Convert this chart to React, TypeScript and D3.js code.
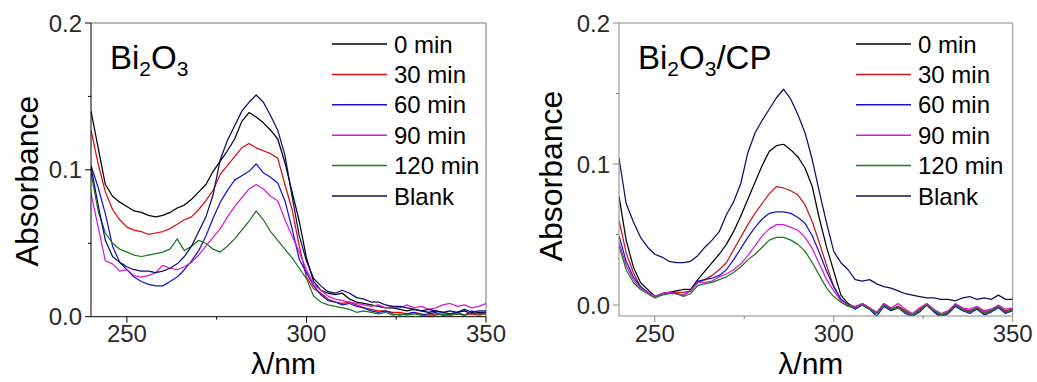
import React from "react";
import * as d3 from "d3";

// wavelength grid (nm), every 2 nm
const wavelengths = [
  240, 242, 244, 246, 248, 250, 252, 254, 256, 258,
  260, 262, 264, 266, 268, 270, 272, 274, 276, 278,
  280, 282, 284, 286, 288, 290, 292, 294, 296, 298,
  300, 302, 304, 306, 308, 310, 312, 314, 316, 318,
  320, 322, 324, 326, 328, 330, 332, 334, 336, 338,
  340, 342, 344, 346, 348, 350,
];

const seriesNames = ["0 min", "30 min", "60 min", "90 min", "120 min", "Blank"];
const leftColors = ["#000000", "#e00c0c", "#1414d2", "#d41cd4", "#1c7a1c", "#0e0e6a"];
const rightColors = ["#000000", "#c41a1a", "#1616c8", "#d41cd4", "#1c7a1c", "#0e0e6a"];

// Bi2O3
const leftMin0 = [
  0.140, 0.115, 0.090, 0.082, 0.078, 0.075, 0.072, 0.071, 0.069, 0.068,
  0.069, 0.071, 0.074, 0.076, 0.080, 0.085, 0.090, 0.099, 0.106, 0.113,
  0.121, 0.133, 0.139, 0.136, 0.132, 0.127, 0.121, 0.105, 0.085, 0.065,
  0.040, 0.024, 0.018, 0.016, 0.015, 0.016, 0.012, 0.010, 0.009, 0.008,
  0.007, 0.006, 0.006, 0.005, 0.004, 0.005, 0.004, 0.003, 0.004, 0.003,
  0.002, 0.003, 0.004, 0.002, 0.003, 0.003,
];
const leftMin30 = [
  0.127, 0.104, 0.085, 0.073, 0.066, 0.061, 0.059, 0.058, 0.056, 0.057,
  0.058, 0.060, 0.063, 0.066, 0.068, 0.073, 0.079, 0.086, 0.097, 0.103,
  0.109, 0.115, 0.118, 0.115, 0.113, 0.111, 0.108, 0.090, 0.073, 0.048,
  0.027, 0.019, 0.016, 0.012, 0.010, 0.009, 0.010, 0.008, 0.006, 0.005,
  0.004, 0.004, 0.003, 0.003, 0.002, 0.003, 0.002, 0.001, 0.002, 0.001,
  0.001, 0.002, 0.001, 0.002, 0.001, 0.002,
];
const leftMin60 = [
  0.103, 0.088, 0.070, 0.048, 0.037, 0.032, 0.027, 0.024, 0.022, 0.021,
  0.021, 0.024, 0.027, 0.032, 0.038, 0.045, 0.055, 0.067, 0.078, 0.086,
  0.093, 0.096, 0.099, 0.104, 0.098, 0.095, 0.091, 0.079, 0.060, 0.039,
  0.030, 0.021, 0.015, 0.011, 0.010, 0.008, 0.009, 0.007, 0.006, 0.004,
  0.003, 0.004, 0.002, 0.001, 0.002, 0.003, 0.001, 0.002, 0.003, 0.001,
  0.002, 0.003, 0.001, 0.004, 0.002, 0.003,
];
const leftMin90 = [
  0.084, 0.061, 0.038, 0.036, 0.031, 0.032, 0.028, 0.027, 0.028, 0.030,
  0.035, 0.033, 0.032, 0.034, 0.037, 0.042, 0.048, 0.054, 0.060, 0.068,
  0.075, 0.081, 0.087, 0.090, 0.087, 0.082, 0.079, 0.066, 0.055, 0.044,
  0.032, 0.022, 0.018, 0.014, 0.012, 0.011, 0.010, 0.009, 0.008, 0.007,
  0.008, 0.006, 0.007, 0.006, 0.008, 0.006, 0.007, 0.005, 0.006, 0.008,
  0.009, 0.007, 0.008, 0.006, 0.007, 0.009,
];
const leftMin120 = [
  0.098, 0.072, 0.057, 0.050, 0.046, 0.044, 0.042, 0.041, 0.042, 0.043,
  0.044, 0.046, 0.053, 0.045, 0.048, 0.052, 0.050, 0.046, 0.044, 0.048,
  0.053, 0.059, 0.065, 0.072, 0.066, 0.058, 0.052, 0.046, 0.040, 0.033,
  0.026, 0.014, 0.010, 0.008, 0.007, 0.006, 0.005, 0.003, 0.004, 0.003,
  0.002, 0.003, 0.001, 0.002, 0.001, 0.002, 0.001, 0.000, 0.001, 0.002,
  0.001, 0.002, 0.001, 0.003, 0.002, 0.002,
];
const leftBlank = [
  0.102, 0.076, 0.052, 0.041, 0.037, 0.034, 0.032, 0.031, 0.031, 0.030,
  0.031, 0.033, 0.036, 0.041, 0.048, 0.058, 0.068, 0.083, 0.107, 0.120,
  0.130, 0.140, 0.146, 0.151, 0.146, 0.137, 0.127, 0.110, 0.082, 0.055,
  0.038, 0.026, 0.021, 0.017, 0.016, 0.018, 0.016, 0.013, 0.012, 0.010,
  0.010, 0.008, 0.007, 0.007, 0.006, 0.005, 0.004, 0.005, 0.004, 0.003,
  0.004, 0.003, 0.005, 0.003, 0.004, 0.004,
];

// Bi2O3/CP
const rightMin0 = [
  0.077, 0.046, 0.027, 0.016, 0.011, 0.006, 0.008, 0.009, 0.010, 0.011,
  0.011, 0.018, 0.024, 0.030, 0.036, 0.043, 0.052, 0.063, 0.075, 0.087,
  0.099, 0.109, 0.113, 0.114, 0.110, 0.105, 0.097, 0.084, 0.061, 0.041,
  0.024, 0.007, 0.001, -0.002, 0.000, -0.003, -0.006, 0.000, -0.003, -0.001,
  -0.005, -0.007, -0.004, 0.000, -0.004, -0.008, -0.005, 0.000, -0.003, -0.005,
  -0.002, -0.006, -0.004, -0.001, -0.005, -0.003,
];
const rightMin30 = [
  0.060, 0.037, 0.023, 0.013, 0.009, 0.006, 0.008, 0.009, 0.009, 0.009,
  0.010, 0.016, 0.018, 0.021, 0.025, 0.030, 0.039, 0.048, 0.057, 0.065,
  0.072, 0.079, 0.084, 0.083, 0.081, 0.078, 0.071, 0.059, 0.044, 0.028,
  0.013, 0.004, 0.000, -0.002, 0.001, -0.002, -0.006, 0.001, -0.003, -0.001,
  -0.004, -0.007, -0.003, 0.001, -0.004, -0.007, -0.005, 0.000, -0.003, -0.004,
  -0.002, -0.005, -0.003, -0.001, -0.004, -0.003,
];
const rightMin60 = [
  0.049, 0.031, 0.020, 0.013, 0.009, 0.006, 0.008, 0.009, 0.008, 0.007,
  0.010, 0.017, 0.018, 0.019, 0.021, 0.025, 0.032, 0.040, 0.048, 0.055,
  0.061, 0.065, 0.066, 0.066, 0.065, 0.062, 0.058, 0.049, 0.037, 0.024,
  0.013, 0.004, 0.000, -0.003, 0.000, -0.003, -0.008, -0.001, -0.004, -0.002,
  -0.006, -0.008, -0.005, 0.000, -0.005, -0.009, -0.006, -0.001, -0.004, -0.006,
  -0.003, -0.007, -0.005, -0.002, -0.006, -0.004,
];
const rightMin90 = [
  0.044, 0.028, 0.018, 0.012, 0.009, 0.006, 0.008, 0.009, 0.008, 0.007,
  0.010, 0.016, 0.016, 0.017, 0.020, 0.022, 0.025, 0.029, 0.035, 0.042,
  0.049, 0.054, 0.057, 0.057, 0.055, 0.053, 0.048, 0.040, 0.029, 0.018,
  0.010, 0.003, 0.000, -0.001, 0.001, -0.002, -0.005, 0.001, -0.002, 0.001,
  -0.003, -0.006, -0.002, 0.001, -0.003, -0.006, -0.004, 0.001, -0.002, -0.003,
  -0.001, -0.004, -0.003, 0.000, -0.003, -0.002,
];
const rightMin120 = [
  0.042, 0.025, 0.016, 0.011, 0.008, 0.005, 0.007, 0.008, 0.008, 0.006,
  0.008, 0.014, 0.015, 0.016, 0.018, 0.020, 0.023, 0.027, 0.032, 0.036,
  0.041, 0.046, 0.048, 0.048, 0.046, 0.043, 0.038, 0.030, 0.021, 0.012,
  0.006, 0.002, -0.001, -0.002, 0.000, -0.003, -0.006, 0.000, -0.003, -0.002,
  -0.005, -0.007, -0.004, 0.000, -0.004, -0.007, -0.005, 0.000, -0.003, -0.005,
  -0.002, -0.006, -0.004, -0.001, -0.005, -0.003,
];
const rightBlank = [
  0.104, 0.072, 0.059, 0.048, 0.041, 0.036, 0.034, 0.031, 0.030, 0.030,
  0.031, 0.035, 0.041, 0.046, 0.052, 0.064, 0.073, 0.086, 0.108, 0.122,
  0.131, 0.139, 0.147, 0.153, 0.146, 0.135, 0.122, 0.103, 0.080, 0.058,
  0.038, 0.030, 0.025, 0.018, 0.017, 0.018, 0.015, 0.013, 0.012, 0.010,
  0.008, 0.007, 0.006, 0.005, 0.005, 0.004, 0.004, 0.003, 0.005, 0.006,
  0.004, 0.005, 0.004, 0.007, 0.004, 0.004,
];

const xMajorTicks = [250, 300, 350];
const xMinorTicks = [275, 325];
const yMajorTicks = [0, 0.1, 0.2];
const yMajorLabels = ["0.0", "0.1", "0.2"];
const yMinorTicks = [0.05, 0.15];

const FONT = "'Liberation Sans', Arial, Helvetica, sans-serif";

type PanelProps = {
  id: string;
  x0: number;
  x1: number;
  y0: number;
  y1: number;
  yMin: number;
  series: number[][];
  colors: string[];
  axisColor: string;
  frameColor: string;
  title: React.ReactNode;
  titleX: number;
  legendX: number;
  yLabelX: number;
  yLabelY: number;
};

function Panel(p: PanelProps) {
  const x = d3.scaleLinear().domain([240, 350]).range([p.x0, p.x1]);
  const y = d3.scaleLinear().domain([p.yMin, 0.2]).range([p.y1, p.y0]);
  const line = d3
    .line<number>()
    .x((_, i) => x(wavelengths[i]))
    .y((d) => y(d));

  return (
    <g>
      <defs>
        <clipPath id={p.id}>
          <rect x={p.x0} y={p.y0} width={p.x1 - p.x0} height={p.y1 - p.y0} />
        </clipPath>
      </defs>

      {/* frame */}
      <line x1={p.x0} x2={p.x1} y1={p.y0} y2={p.y0} stroke={p.frameColor} strokeWidth={1} />
      <line x1={p.x1} x2={p.x1} y1={p.y0} y2={p.y1} stroke={p.frameColor} strokeWidth={1} />

      <g clipPath={`url(#${p.id})`}>
        {p.series.map((s, i) => (
          <path key={i} d={line(s) || ""} fill="none" stroke={p.colors[i]} strokeWidth={1.25} strokeLinejoin="round" />
        ))}
      </g>

      <line x1={p.x0} x2={p.x0} y1={p.y0} y2={p.y1} stroke={p.axisColor} strokeWidth={1} />
      <line x1={p.x0} x2={p.x1} y1={p.y1} y2={p.y1} stroke={p.axisColor} strokeWidth={1} />

      {/* y ticks */}
      {yMajorTicks.map((t, i) => (
        <g key={t}>
          <line x1={p.x0 - 6} x2={p.x0} y1={y(t)} y2={y(t)} stroke={p.axisColor} />
          <text x={p.x0 - 9} y={y(t)} dy="0.36em" textAnchor="end" fontSize={24} fill="#2a2a2a">
            {yMajorLabels[i]}
          </text>
        </g>
      ))}
      {yMinorTicks.map((t) => (
        <line key={t} x1={p.x0 - 3} x2={p.x0} y1={y(t)} y2={y(t)} stroke={p.axisColor} />
      ))}

      {/* x ticks */}
      {xMajorTicks.map((t) => (
        <g key={t}>
          <line x1={x(t)} x2={x(t)} y1={p.y1} y2={p.y1 + 6} stroke={p.axisColor} />
          <text x={x(t)} y={342} textAnchor="middle" fontSize={24} fill="#2a2a2a">
            {t}
          </text>
        </g>
      ))}
      {xMinorTicks.map((t) => (
        <line key={t} x1={x(t)} x2={x(t)} y1={p.y1} y2={p.y1 + 3} stroke={p.axisColor} />
      ))}

      {/* axis titles */}
      <text
        transform={`translate(${p.yLabelX},${p.yLabelY}) rotate(-90)`}
        textAnchor="middle"
        fontSize={32}
        fill="#000"
      >
        Absorbance
      </text>
      <text x={(p.x0 + p.x1) / 2 - 5} y={374} textAnchor="middle" fontSize={30} fill="#000">
        λ/nm
      </text>

      {/* panel title */}
      <text x={p.titleX} y={69} fontSize={33} fill="#000">
        {p.title}
      </text>

      {/* legend */}
      {seriesNames.map((name, i) => {
        const ly = 44 + i * 30.4;
        return (
          <g key={name}>
            <line x1={p.legendX} x2={p.legendX + 55} y1={ly} y2={ly} stroke={p.colors[i]} strokeWidth={1.5} />
            <text x={p.legendX + 62} y={ly} dy="0.36em" fontSize={24} fill="#000">
              {name}
            </text>
          </g>
        );
      })}
    </g>
  );
}

export default function App() {
  return (
    <svg
      width={1037}
      height={382}
      style={{ position: "absolute", left: 0, top: 0, background: "#fff" }}
      fontFamily={FONT}
    >
      <Panel
        id="clipLeft"
        x0={91}
        x1={486}
        y0={23}
        y1={316.7}
        yMin={0}
        series={[leftMin0, leftMin30, leftMin60, leftMin90, leftMin120, leftBlank]}
        colors={leftColors}
        axisColor="#000"
        frameColor="#777"
        titleX={110}
        legendX={332}
        yLabelX={38}
        yLabelY={181}
        title={
          <>
            Bi<tspan fontSize={21} dy={7}>2</tspan>
            <tspan dy={-7}>O</tspan>
            <tspan fontSize={21} dy={7}>3</tspan>
          </>
        }
      />
      <Panel
        id="clipRight"
        x0={619}
        x1={1012.7}
        y0={23}
        y1={316}
        yMin={-0.0078}
        series={[rightMin0, rightMin30, rightMin60, rightMin90, rightMin120, rightBlank]}
        colors={rightColors}
        axisColor="#888"
        frameColor="#888"
        titleX={638}
        legendX={856}
        yLabelX={562}
        yLabelY={176}
        title={
          <>
            Bi<tspan fontSize={21} dy={7}>2</tspan>
            <tspan dy={-7}>O</tspan>
            <tspan fontSize={21} dy={7}>3</tspan>
            <tspan dy={-7}>/CP</tspan>
          </>
        }
      />
    </svg>
  );
}
